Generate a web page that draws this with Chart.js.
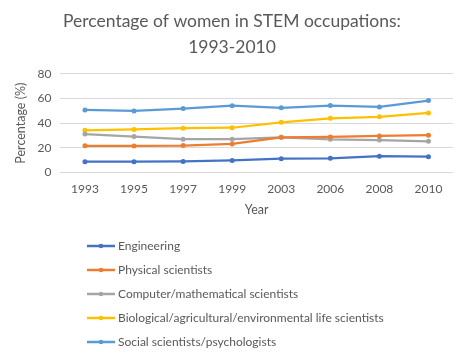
<!DOCTYPE html>
<html>
<head>
<meta charset="utf-8">
<script src="https://cdn.jsdelivr.net/npm/chart.js@4/dist/chart.umd.min.js"></script>
<style>
html,body{margin:0;padding:0;background:#fff;}
#wrap{width:464px;height:357px;position:relative;}
</style>
</head>
<body>
<div id="wrap"><canvas id="c" width="464" height="357"></canvas></div>
<script>
const years = ["1993","1995","1997","1999","2003","2006","2008","2010"];
const engineering = [8.8, 8.8, 9.0, 9.8, 11.3, 11.6, 13.3, 12.9];
const physical = [21.7, 21.6, 21.9, 23.2, 28.6, 28.9, 29.7, 30.3];
const computer = [31.2, 29.2, 27.0, 27.0, 28.6, 26.9, 26.3, 25.3];
const biological = [34.2, 34.9, 35.9, 36.3, 40.7, 43.9, 45.1, 48.3];
const social = [50.7, 49.9, 51.8, 54.2, 52.4, 54.3, 53.1, 58.3];
const seriesNames = ["Engineering","Physical scientists","Computer/mathematical scientists","Biological/agricultural/environmental life scientists","Social scientists/psychologists"];
const yTicks = [0,20,40,60,80];
const titleLines = ["Percentage of women in STEM occupations:","1993-2010"];

const colors = ["#4472C4","#ED7D31","#A5A5A5","#FFC000","#5B9BD5"];
const values = [engineering, physical, computer, biological, social];
const FONT = "Lato, 'Open Sans', sans-serif";
const TXT = "#595959";

const legendPlugin = {
  id: 'vlegend',
  afterDraw(chart) {
    const ctx = chart.ctx;
    ctx.save();
    ctx.font = "12px " + FONT;
    ctx.textBaseline = "middle";
    chart.data.datasets.forEach((ds, i) => {
      const y = 246 + i * 24;
      const x0 = 87;
      ctx.strokeStyle = ds.borderColor;
      ctx.lineWidth = 2.5;
      ctx.beginPath(); ctx.moveTo(x0, y); ctx.lineTo(x0 + 28, y); ctx.stroke();
      ctx.fillStyle = ds.borderColor;
      ctx.beginPath(); ctx.arc(x0 + 14, y, 2.3, 0, Math.PI * 2); ctx.fill();
      ctx.fillStyle = TXT;
      ctx.fillText(ds.label, x0 + 31, y);
    });
    ctx.restore();
  }
};

new Chart(document.getElementById('c'), {
  type: 'line',
  data: {
    labels: years,
    datasets: seriesNames.map((n, i) => ({
      label: n,
      data: values[i],
      borderColor: colors[i],
      backgroundColor: colors[i],
      borderWidth: 2.25,
      pointRadius: 2.5,
      pointBorderWidth: 0,
      tension: 0
    }))
  },
  options: {
    responsive: false,
    animation: false,
    layout: { padding: { left: 11, right: 11, top: 0, bottom: 142 } },
    plugins: {
      legend: { display: false },
      tooltip: { enabled: false },
      title: {
        display: true,
        text: titleLines,
        color: TXT,
        font: { family: FONT, size: 17.5, weight: 'normal', lineHeight: 1.45 },
        padding: { top: 9, bottom: 14 }
      }
    },
    scales: {
      x: {
        offset: true,
        grid: { display: false, drawTicks: false },
        border: { display: false },
        ticks: { color: TXT, font: { family: FONT, size: 12 }, padding: 9 },
        title: { display: true, text: "Year", color: TXT, font: { family: FONT, size: 12.5, lineHeight: 0.8 }, padding: { top: 0, bottom: 0 } }
      },
      y: {
        min: 0, max: 80,
        afterBuildTicks(axis) { axis.ticks = yTicks.map(v => ({ value: v })); },
        grid: { color: "#D9D9D9", drawTicks: false, lineWidth: 1 },
        border: { display: false },
        ticks: { color: TXT, font: { family: FONT, size: 12 }, padding: 9 },
        title: { display: true, text: "Percentage (%)", color: TXT, font: { family: FONT, size: 12.5, lineHeight: 1.0 }, padding: { bottom: 1 } }
      }
    }
  },
  plugins: [legendPlugin]
});
</script>
</body>
</html>
